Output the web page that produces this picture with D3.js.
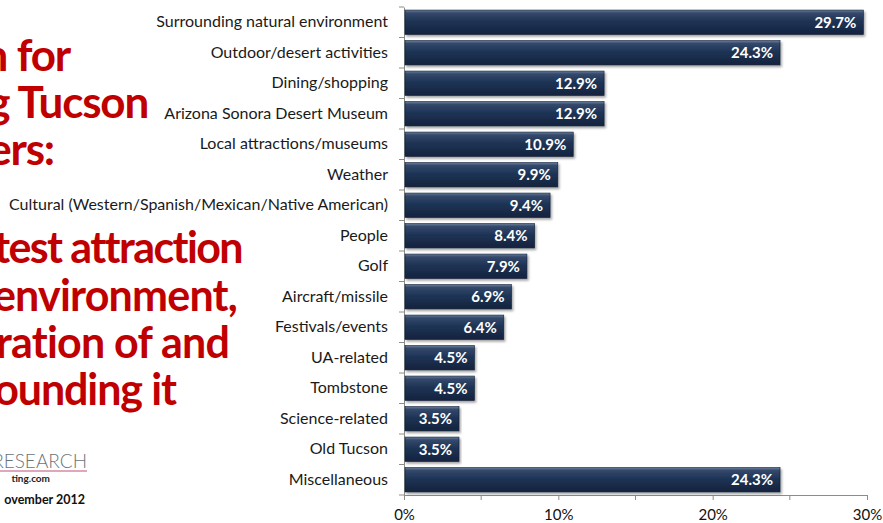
<!DOCTYPE html>
<html>
<head>
<meta charset="utf-8">
<script src="https://cdn.jsdelivr.net/npm/d3@7"></script>
<style>
  body { margin: 0; background: #fff; }
  svg { display: block; }
</style>
</head>
<body>
<svg width="883" height="523"></svg>
<script>
// data
const categories = [
  "Surrounding natural environment",
  "Outdoor/desert activities",
  "Dining/shopping",
  "Arizona Sonora Desert Museum",
  "Local attractions/museums",
  "Weather",
  "Cultural (Western/Spanish/Mexican/Native American)",
  "People",
  "Golf",
  "Aircraft/missile",
  "Festivals/events",
  "UA-related",
  "Tombstone",
  "Science-related",
  "Old Tucson",
  "Miscellaneous"
];
const values = [29.7, 24.3, 12.9, 12.9, 10.9, 9.9, 9.4, 8.4, 7.9, 6.9, 6.4, 4.5, 4.5, 3.5, 3.5, 24.3];
const xTicks = [0, 10, 20, 30];
const xMinorTicks = [5, 15, 25];

const titleLines = ["n for", "g Tucson", "ers:"];
const subtitleLines = ["test attraction", "environment,", "ration of and", "ounding it"];

let svg = d3.select("svg");
const font = "Lato, 'Open Sans', sans-serif";

let defs = svg.append("defs");
let grad = defs.append("linearGradient")
  .attr("id", "barGrad").attr("x1", 0).attr("y1", 0).attr("x2", 0).attr("y2", 1);
grad.append("stop").attr("offset", "0%").attr("stop-color", "#6b7f9c");
grad.append("stop").attr("offset", "12%").attr("stop-color", "#34496b");
grad.append("stop").attr("offset", "45%").attr("stop-color", "#1f3456");
grad.append("stop").attr("offset", "100%").attr("stop-color", "#14233d");

let shadow = defs.append("filter").attr("id", "shadow")
  .attr("x", "-5%").attr("y", "-20%").attr("width", "110%").attr("height", "160%");
shadow.append("feDropShadow")
  .attr("dx", 1.5).attr("dy", 2).attr("stdDeviation", 1.2)
  .attr("flood-color", "#000").attr("flood-opacity", 0.35);

// left side title (runs off the page edge like the slide)
let title = svg.append("g").attr("font-family", font).attr("font-weight", "bold")
  .attr("fill", "#c00000").attr("text-anchor", "end");
const titleRight = [70, 148, 54];
const titleBase = [71, 118, 165];
titleLines.forEach((t, i) => {
  title.append("text").attr("x", titleRight[i]).attr("y", titleBase[i])
    .attr("font-size", 44).attr("letter-spacing", -1.2).text(t);
});
const subRight = [242, 237, 229, 176];
const subBase = [263, 311, 358, 405];
const subSpacing = [-1.6, -0.8, -0.8, -1.1];
subtitleLines.forEach((t, i) => {
  title.append("text").attr("x", subRight[i]).attr("y", subBase[i])
    .attr("font-size", 43).attr("letter-spacing", subSpacing[i]).text(t);
});

// logo / footer
svg.append("text").attr("x", 87).attr("y", 468).attr("text-anchor", "end")
  .attr("font-family", font).attr("font-size", 19).attr("fill", "#6b7378")
  .attr("font-weight", 300).text("RESEARCH");
svg.append("line").attr("x1", 0).attr("x2", 87).attr("y1", 471).attr("y2", 471)
  .attr("stroke", "#d48aa2").attr("stroke-width", 1.5);
svg.append("text").attr("x", 50).attr("y", 482).attr("text-anchor", "end")
  .attr("font-family", font).attr("font-size", 10).attr("font-weight", "bold")
  .attr("fill", "#222").text("ting.com");
svg.append("text").attr("x", 85).attr("y", 504).attr("text-anchor", "end")
  .attr("font-family", font).attr("font-size", 12.5).attr("font-weight", "bold")
  .attr("fill", "#111").text("ovember 2012");

// scales
let x = d3.scaleLinear().domain([0, 30]).range([404, 867]);
let y = d3.scaleBand().domain(categories).range([7, 495]).paddingInner(0.2).paddingOuter(0.1);

let g = svg.append("g");

// x axis
g.append("g")
  .attr("transform", "translate(0,495)")
  .call(d3.axisBottom(x).tickValues(xTicks).tickSize(5).tickSizeOuter(0)
    .tickFormat(d => d + "%"))
  .call(a => a.select(".domain").attr("stroke", "#8c8c8c"))
  .call(a => a.selectAll(".tick line").attr("stroke", "#8c8c8c"))
  .call(a => a.selectAll(".tick text").attr("font-family", font)
    .attr("font-size", 15).attr("fill", "#111").attr("dy", "1.15em"));
g.append("g").selectAll("line").data(xMinorTicks).enter().append("line")
  .attr("x1", d => x(d)).attr("x2", d => x(d)).attr("y1", 495).attr("y2", 500)
  .attr("stroke", "#8c8c8c");

// y axis with ticks at category boundaries
g.append("g")
  .attr("transform", "translate(404,0)")
  .call(d3.axisLeft(y).tickSize(0).tickPadding(16).tickSizeOuter(0))
  .call(a => a.select(".domain").attr("stroke", "#8c8c8c"))
  .call(a => a.selectAll(".tick text").attr("font-family", font)
    .attr("font-size", 16).attr("fill", "#1a1a1a"));
let step = y.step();
let bounds = categories.map(c => y(c) - step * y.paddingInner() / 2)
  .concat([y(categories[categories.length - 1]) + y.bandwidth() + step * y.paddingInner() / 2]);
g.append("g").selectAll("line").data(bounds).enter().append("line")
  .attr("x1", 399).attr("x2", 404).attr("y1", d => d).attr("y2", d => d)
  .attr("stroke", "#8c8c8c");

// bars
g.selectAll(".bar").data(values).enter().append("rect")
  .attr("class", "bar")
  .attr("x", x(0) + 1)
  .attr("y", (d, i) => y(categories[i]))
  .attr("width", d => x(d) - x(0))
  .attr("height", y.bandwidth())
  .attr("fill", "url(#barGrad)")
  .attr("stroke", "#0f1c33").attr("stroke-width", 0.6)
  .attr("filter", "url(#shadow)");

// value labels
g.selectAll(".val").data(values).enter().append("text")
  .attr("class", "val")
  .attr("x", d => x(d) - 6)
  .attr("y", (d, i) => y(categories[i]) + y.bandwidth() / 2)
  .attr("dy", "0.36em")
  .attr("text-anchor", "end")
  .attr("font-family", font).attr("font-size", 15).attr("font-weight", "bold")
  .attr("fill", "#fff")
  .text(d => d.toFixed(1) + "%");
</script>
</body>
</html>
